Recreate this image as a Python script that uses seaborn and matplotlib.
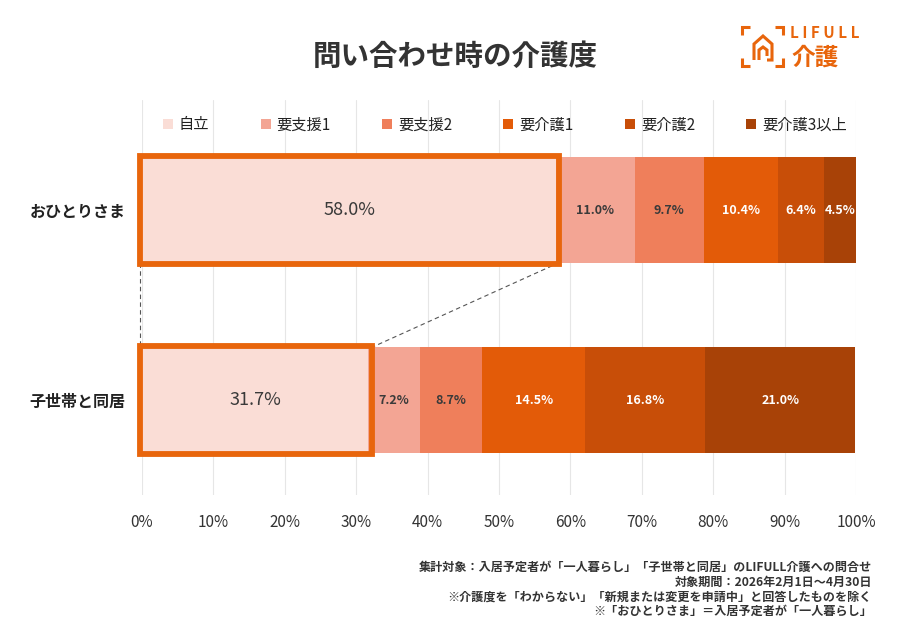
import matplotlib
matplotlib.use("Agg")
import matplotlib.pyplot as plt
import seaborn as sns
import pandas as pd
import numpy as np
from matplotlib.patches import Rectangle, Patch
from matplotlib.lines import Line2D

# ---- data ----
groups = ["おひとりさま", "子世帯と同居"]
levels = ["自立", "要支援1", "要支援2", "要介護1", "要介護2", "要介護3以上"]
ohitori = [58.0, 11.0, 9.7, 10.4, 6.4, 4.5]
kosetai = [31.7, 7.2, 8.7, 14.5, 16.8, 21.0]
xticks = [0, 10, 20, 30, 40, 50, 60, 70, 80, 90, 100]
xticklabels = ["0%", "10%", "20%", "30%", "40%", "50%", "60%", "70%", "80%", "90%", "100%"]
colors = ["#FADDD6", "#F3A594", "#EF7F5B", "#E35B08", "#C84E08", "#A84207"]
label_colors = ["#3a3a3a", "#3a3a3a", "#3a3a3a", "white", "white", "white"]
title = "問い合わせ時の介護度"
notes = [
    "集計対象：入居予定者が「一人暮らし」「子世帯と同居」のLIFULL介護への問合せ",
    "対象期間：2026年2月1日～4月30日",
    "※介護度を「わからない」「新規または変更を申請中」と回答したものを除く",
    "※「おひとりさま」＝入居予定者が「一人暮らし」",
]
ORANGE = "#E8650C"

sns.set_theme(style="white")
plt.rcParams["font.family"] = ["Noto Sans CJK JP", "DejaVu Sans"]

fig = plt.figure(figsize=(9, 6.42), dpi=100)
ax = fig.add_axes([142 / 900, 1 - 495 / 642, (856 - 142) / 900, (495 - 100) / 642])

rows = []
for g, vals in zip(groups, [ohitori, kosetai]):
    cum = np.cumsum(vals)
    for lv, v, c in zip(levels, vals, cum):
        rows.append({"group": g, "level": lv, "value": v, "cum": c})
df = pd.DataFrame(rows)

BAR_H = 0.553
# draw cumulative layers from outermost to innermost
for lv, col in reversed(list(zip(levels, colors))):
    sub = df[df["level"] == lv]
    sns.barplot(data=sub, x="cum", y="group", order=groups, orient="h",
                color=col, saturation=1, width=BAR_H, linewidth=0, ax=ax,
                zorder=2)

ax.set_xlim(0, 100)
ax.set_ylim(1.5, -0.579)

# value labels
for gi, g in enumerate(groups):
    sub = df[df["group"] == g].reset_index(drop=True)
    for i, r in sub.iterrows():
        xc = r["cum"] - r["value"] / 2
        if i == 0:
            ax.text(xc, gi, f"{r['value']:.1f}%", ha="center", va="center",
                    fontsize=13, color="#3a3a3a", zorder=5)
        else:
            ax.text(xc, gi, f"{r['value']:.1f}%", ha="center", va="center",
                    fontsize=9, fontweight="bold", color=label_colors[i], zorder=5)

# highlight boxes
for gi, vals in enumerate([ohitori, kosetai]):
    ax.add_patch(Rectangle((-0.35, gi - BAR_H / 2 - 0.01), vals[0] + 0.8, BAR_H + 0.02,
                           fill=False, edgecolor=ORANGE, linewidth=4.2, zorder=6,
                           clip_on=False, joinstyle="miter"))

# dashed connectors
ax.plot([-0.35, -0.35], [BAR_H / 2, 1 - BAR_H / 2], ls=(0, (4, 3)), color="#555555",
        lw=0.8, zorder=4, clip_on=False)
ax.plot([ohitori[0] + 0.45, kosetai[0] + 0.45], [BAR_H / 2, 1 - BAR_H / 2], ls=(0, (4, 3)),
        color="#555555", lw=0.8, zorder=4, clip_on=False)

# grid / axes styling
ax.set_xticks(xticks)
ax.set_xticklabels(xticklabels)
ax.xaxis.grid(True, color="#E6E6E6", lw=0.8, zorder=0)
ax.set_axisbelow(True)
for s in ax.spines.values():
    s.set_visible(False)
ax.tick_params(axis="x", length=0, pad=14, labelsize=11, labelcolor="#333333")
ax.tick_params(axis="y", length=0, pad=12, labelsize=11.5, labelcolor="#222222")
for t in ax.get_yticklabels():
    t.set_fontweight("bold")
ax.set_xlabel("")
ax.set_ylabel("")

# legend
handles = [Patch(facecolor=c, edgecolor="none", label=l) for l, c in zip(levels, colors)]
leg = fig.legend(handles=handles, loc="center", bbox_to_anchor=(505 / 900, 1 - 125 / 642),
                 ncol=6, frameon=False, fontsize=11, handlelength=0.65, handleheight=0.65,
                 handletextpad=0.4, columnspacing=3.35)
for t in leg.get_texts():
    t.set_color("#222222")

# title
fig.text(455 / 900, 1 - 57 / 642, title, ha="center", va="center", fontsize=20.5,
         fontweight="bold", color="#333333")

# logo
fig.text(790 / 900, 1 - 33 / 642, "L I F U L L", ha="left", va="center", fontsize=11,
         fontweight="bold", color=ORANGE)
fig.text(791 / 900, 1 - 58 / 642, "介護", ha="left", va="center", fontsize=17,
         fontweight="bold", color=ORANGE)

def px(x, y):
    return x / 900, 1 - y / 642

def fline(pts, lw=2.2):
    xs, ys = zip(*[px(a, b) for a, b in pts])
    fig.add_artist(Line2D(xs, ys, color=ORANGE, lw=lw, solid_capstyle="butt",
                          solid_joinstyle="miter"))

fline([(742, 35), (742, 27), (750, 27)])
fline([(775, 27), (783, 27), (783, 35)])
fline([(742, 58), (742, 66), (750, 66)])
fline([(775, 66), (783, 66), (783, 58)])
fline([(754, 60), (754, 44), (763, 36), (772, 44), (772, 60), (767, 60)])
fline([(759, 60), (759, 50), (763, 47), (767, 50), (767, 56)])

# notes
ys = [567, 582, 597, 611]
for txt, y in zip(notes, ys):
    fig.text(872 / 900, 1 - y / 642, txt, ha="right", va="center", fontsize=8.7,
             fontweight="bold", color="#333333")

fig.savefig("out.png", dpi=100)
